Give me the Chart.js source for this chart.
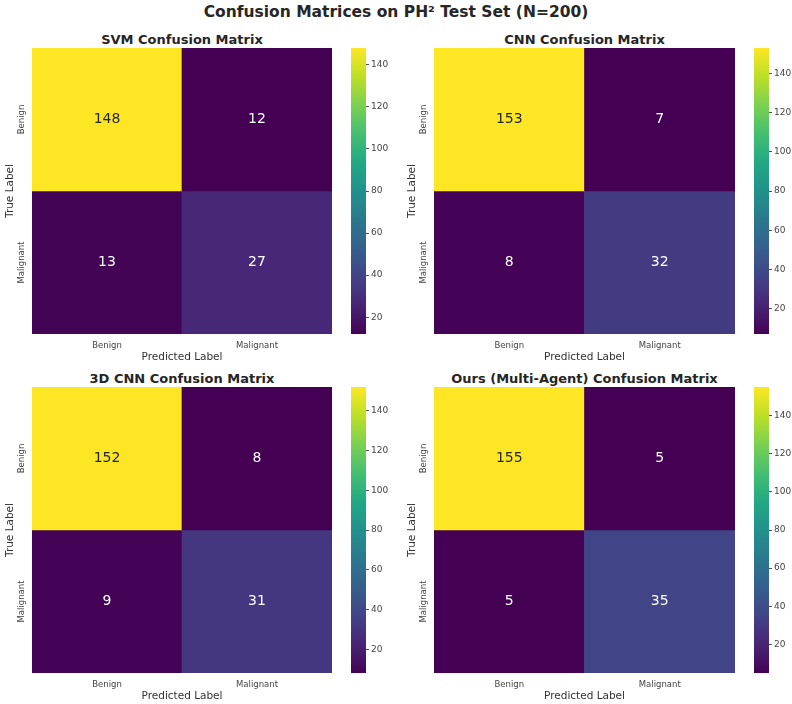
<!DOCTYPE html>
<html>
<head>
<meta charset="utf-8">
<script src="https://cdn.jsdelivr.net/npm/chart.js@4.4.1/dist/chart.umd.min.js"></script>
<style>
  body { margin: 0; background: #fff; }
  #page { position: relative; width: 792px; height: 704px; overflow: hidden; font-family: 'DejaVu Sans', sans-serif; }
  canvas { position: absolute; }
  .title { position: absolute; transform: translate(-50%, -50%); white-space: nowrap; font-weight: bold; color: #262626; }
</style>
</head>
<body>
<div id="page">
  <div class="title" style="left:396px; top:12px; font-size:15.5px;">Confusion Matrices on PH² Test Set (N=200)</div>
</div>
<script>
// data
const classLabels = ["Benign", "Malignant"];
const modelTitles = [
  "SVM Confusion Matrix",
  "CNN Confusion Matrix",
  "3D CNN Confusion Matrix",
  "Ours (Multi-Agent) Confusion Matrix",
];
const svmCounts = [[148, 12], [13, 27]];
const cnnCounts = [[153, 7], [8, 32]];
const cnn3dCounts = [[152, 8], [9, 31]];
const oursCounts = [[155, 5], [5, 35]];
const colorbarTicks = [20, 40, 60, 80, 100, 120, 140];

// where each heatmap sits (chart area) and its colorbar x
const boxes = [
  { x: 32, y: 48, w: 300, cb: 351 },
  { x: 434, y: 48, w: 301, cb: 754 },
  { x: 32, y: 387, w: 300, cb: 351 },
  { x: 434, y: 387, w: 301, cb: 754 },
];
const H = 286;
const allCounts = [svmCounts, cnnCounts, cnn3dCounts, oursCounts];

Chart.defaults.font.family = "'DejaVu Sans'";

// viridis colormap
const viridisStops = ["#440154", "#482475", "#414487", "#355f8d", "#2a788e", "#21918c", "#22a884", "#44bf70", "#7ad151", "#bddf26", "#fde725"];
function hexToRgb(h) {
  return [parseInt(h.slice(1, 3), 16), parseInt(h.slice(3, 5), 16), parseInt(h.slice(5, 7), 16)];
}
function viridis(t) {
  t = Math.max(0, Math.min(1, t));
  let p = t * (viridisStops.length - 1);
  let i = Math.min(Math.floor(p), viridisStops.length - 2);
  let f = p - i;
  let a = hexToRgb(viridisStops[i]);
  let b = hexToRgb(viridisStops[i + 1]);
  let c = a.map((v, k) => Math.round(v + (b[k] - v) * f));
  return "rgb(" + c.join(",") + ")";
}

// y tick padding so rotated labels sit centred 10px left of the axes
let mctx = document.createElement("canvas").getContext("2d");
mctx.font = "8.5px 'DejaVu Sans'";
let widest = Math.max(...classLabels.map((l) => mctx.measureText(l).width));
let yTickPad = 10 - widest / 2;

// draws the count in the middle of every cell
const cellText = {
  id: "cellText",
  afterDatasetsDraw(chart) {
    let ctx = chart.ctx;
    ctx.save();
    ctx.font = "14px 'DejaVu Sans'";
    ctx.textAlign = "center";
    ctx.textBaseline = "middle";
    chart.data.datasets.forEach((ds, d) => {
      chart.getDatasetMeta(d).data.forEach((bar, i) => {
        let t = ds.norm[i];
        ctx.fillStyle = t > 0.5 ? "#262626" : "#ffffff";
        ctx.fillText(ds.counts[i], bar.x, (bar.y + bar.base) / 2);
      });
    });
    ctx.restore();
  },
};

function makeCanvas(left, top, w, h) {
  let c = document.createElement("canvas");
  c.width = w;
  c.height = h;
  c.style.left = left + "px";
  c.style.top = top + "px";
  c.style.width = w + "px";
  c.style.height = h + "px";
  document.getElementById("page").appendChild(c);
  return c;
}

allCounts.forEach((counts, p) => {
  let box = boxes[p];
  let flat = counts.flat();
  let vmin = Math.min(...flat);
  let vmax = Math.max(...flat);

  // subplot title
  let t = document.createElement("div");
  t.className = "title";
  t.style.left = box.x + box.w / 2 + "px";
  t.style.top = box.y - 9 + "px";
  t.style.fontSize = "13px";
  t.textContent = modelTitles[p];
  document.getElementById("page").appendChild(t);

  // heatmap: one floating bar per cell
  let heat = makeCanvas(box.x - 32, box.y, box.w + 32, H + 30);
  new Chart(heat.getContext("2d"), {
    type: "bar",
    data: {
      labels: classLabels,
      datasets: counts.map((row, r) => ({
        data: row.map(() => [r, r + 1]),
        counts: row,
        norm: row.map((v) => (v - vmin) / (vmax - vmin)),
        backgroundColor: row.map((v) => viridis((v - vmin) / (vmax - vmin))),
        borderWidth: 0,
        barPercentage: 1,
        categoryPercentage: 1,
        grouped: false,
      })),
    },
    options: {
      responsive: false,
      animation: false,
      plugins: { legend: { display: false }, tooltip: { enabled: false } },
      scales: {
        x: {
          grid: { display: false, drawTicks: false },
          border: { display: false },
          ticks: { font: { size: 8.5 }, color: "#444", padding: 7, maxRotation: 0 },
          title: {
            display: true,
            text: "Predicted Label",
            font: { size: 10.5 },
            color: "#333",
            padding: { top: 0, bottom: 0 },
          },
          afterFit(s) {
            s.height = 30;
            s.paddingLeft = 0;
            s.paddingRight = 0;
          },
        },
        y: {
          type: "linear",
          min: 0,
          max: 2,
          reverse: true,
          grid: { display: false, drawTicks: false },
          border: { display: false },
          afterBuildTicks(s) {
            s.ticks = classLabels.map((l, i) => ({ value: i + 0.5 }));
          },
          ticks: {
            callback: (v, i) => classLabels[i],
            minRotation: 90,
            maxRotation: 90,
            crossAlign: "center",
            padding: yTickPad,
            font: { size: 8.5 },
            color: "#444",
          },
          title: {
            display: true,
            text: "True Label",
            font: { size: 10.5 },
            color: "#333",
            padding: { top: 4, bottom: 0 },
          },
          afterFit(s) {
            s.width = 32;
            s.paddingTop = 0;
            s.paddingBottom = 0;
          },
        },
      },
    },
    plugins: [cellText],
  });

  // colorbar
  let cb = makeCanvas(box.cb, box.y, 15 + 32, H);
  new Chart(cb.getContext("2d"), {
    type: "bar",
    data: {
      labels: [""],
      datasets: [
        {
          data: [[vmin, vmax]],
          borderWidth: 0,
          barPercentage: 1,
          categoryPercentage: 1,
          backgroundColor(ctx) {
            let chart = ctx.chart;
            let ys = chart.scales.y;
            if (!chart.chartArea || !ys) return viridis(0.5);
            let g = chart.ctx.createLinearGradient(0, ys.getPixelForValue(vmin), 0, ys.getPixelForValue(vmax));
            for (let i = 0; i <= 20; i++) g.addColorStop(i / 20, viridis(i / 20));
            return g;
          },
        },
      ],
    },
    options: {
      responsive: false,
      animation: false,
      plugins: { legend: { display: false }, tooltip: { enabled: false } },
      scales: {
        x: { display: false },
        y: {
          position: "right",
          min: vmin,
          max: vmax,
          border: { display: false },
          grid: { display: true, drawOnChartArea: false, drawTicks: true, tickLength: 3, color: "#555" },
          afterBuildTicks(s) {
            s.ticks = colorbarTicks.map((v) => ({ value: v }));
          },
          ticks: { font: { size: 9 }, color: "#444", padding: 2 },
          afterFit(s) {
            s.width = 32;
            s.paddingTop = 0;
            s.paddingBottom = 0;
          },
        },
      },
    },
  });
});
</script>
</body>
</html>
